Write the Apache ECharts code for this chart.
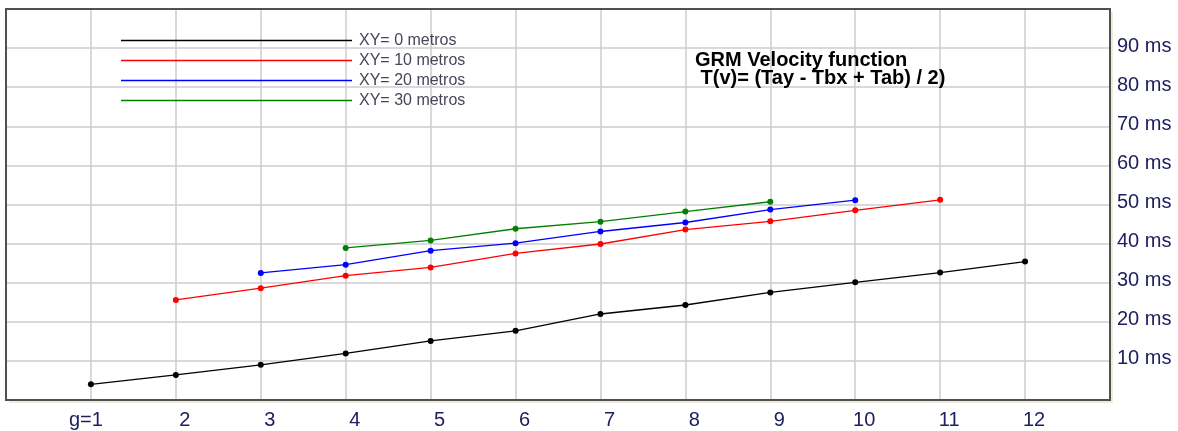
<!DOCTYPE html>
<html>
<head>
<meta charset="utf-8">
<title>GRM Velocity function</title>
<script src="https://cdn.jsdelivr.net/npm/echarts@6/dist/echarts.min.js"></script>
<style>
  html, body { margin: 0; padding: 0; background: #fff; }
  #chart { width: 1178px; height: 431px; }
</style>
</head>
<body>
<div id="chart"></div>
<script>
// x tick labels (g = 1 .. 12), y tick labels
var xLabels = ['g=1', '2', '3', '4', '5', '6', '7', '8', '9', '10', '11', '12'];
var yLabels = ['10 ms', '20 ms', '30 ms', '40 ms', '50 ms', '60 ms', '70 ms', '80 ms', '90 ms'];

var seriesNames = ['XY= 0 metros', 'XY= 10 metros', 'XY= 20 metros', 'XY= 30 metros'];
var seriesColors = ['#000000', '#ff0000', '#0000ff', '#008000'];
// first g of each series
var seriesStart = [1, 2, 3, 4];

var xy0 = [4.0, 6.4, 9.0, 11.9, 15.1, 17.7, 22.0, 24.3, 27.5, 30.1, 32.6, 35.4];
var xy10 = [25.6, 28.6, 31.8, 33.9, 37.5, 39.9, 43.6, 45.7, 48.5, 51.2];
var xy20 = [32.5, 34.6, 38.2, 40.1, 43.1, 45.4, 48.7, 51.1];
var xy30 = [38.9, 40.8, 43.8, 45.6, 48.2, 50.7];

var allValues = [xy0, xy10, xy20, xy30];

var font = "'Liberation Sans', Arial, sans-serif";
var labelColor = '#202060';

var chart = echarts.init(document.getElementById('chart'));

var series = allValues.map(function (vals, k) {
  return {
    name: seriesNames[k],
    type: 'line',
    symbol: 'circle',
    symbolSize: 6,
    showSymbol: true,
    color: seriesColors[k],
    lineStyle: { width: 1.3, color: seriesColors[k] },
    itemStyle: { color: seriesColors[k] },
    z: 5,
    data: vals.map(function (v, i) { return [seriesStart[k] + i, v]; })
  };
});

var gridBox = { left: 6, right: 68, top: 9, bottom: 31 };

chart.setOption({
  animation: false,
  backgroundColor: '#fff',
  title: {
    text: 'GRM Velocity function\n T(v)= (Tay - Tbx + Tab) / 2)',
    left: 695,
    top: 51,
    padding: 0,
    textStyle: {
      fontFamily: font,
      fontSize: 20,
      fontWeight: 'bold',
      lineHeight: 18,
      color: '#000'
    }
  },
  legend: {
    orient: 'vertical',
    left: 121,
    top: 30.5,
    padding: 0,
    itemGap: 0,
    itemWidth: 231,
    itemHeight: 1.5,
    icon: 'rect',
    data: seriesNames,
    textStyle: {
      fontFamily: font,
      fontSize: 16,
      lineHeight: 20,
      color: '#4b4458',
      padding: [0, 0, 0, 2]
    }
  },
  grid: [
    // plot background with the beige drop edge
    Object.assign({
      show: true,
      backgroundColor: '#fff',
      borderWidth: 0,
      shadowColor: '#efebd9',
      shadowOffsetX: 3,
      shadowOffsetY: 3,
      shadowBlur: 0
    }, gridBox),
    // dark frame drawn above the grid lines
    Object.assign({
      show: true,
      z: 4,
      backgroundColor: 'transparent',
      borderColor: '#505050',
      borderWidth: 2
    }, gridBox)
  ],
  xAxis: {
    type: 'value',
    gridIndex: 0,
    min: 0,
    max: 13,
    interval: 1,
    axisLine: { show: false },
    axisTick: { show: false },
    splitLine: { show: true, lineStyle: { color: '#cccccc', width: 1.5 } },
    axisLabel: {
      margin: 10,
      fontFamily: font,
      fontSize: 20,
      color: labelColor,
      formatter: function (v) {
        var s = xLabels[v - 1];
        if (!s) return '';
        return v === 1 ? '{g|' + s + '}' : '{n|' + s + '}';
      },
      rich: {
        g: { fontFamily: font, fontSize: 20, color: labelColor, padding: [0, 10, 0, 0] },
        n: { fontFamily: font, fontSize: 20, color: labelColor, padding: [0, 0, 0, 18] }
      }
    }
  },
  yAxis: {
    type: 'value',
    gridIndex: 0,
    position: 'right',
    min: 0,
    max: 100,
    interval: 10,
    axisLine: { show: false },
    axisTick: { show: false },
    splitLine: { show: true, lineStyle: { color: '#cccccc', width: 1.5 } },
    axisLabel: {
      margin: 7,
      fontFamily: font,
      fontSize: 20,
      color: labelColor,
      verticalAlign: 'bottom',
      lineHeight: 4,
      formatter: function (v) {
        return yLabels[v / 10 - 1] || '';
      }
    }
  },
  series: series
});
</script>
</body>
</html>
